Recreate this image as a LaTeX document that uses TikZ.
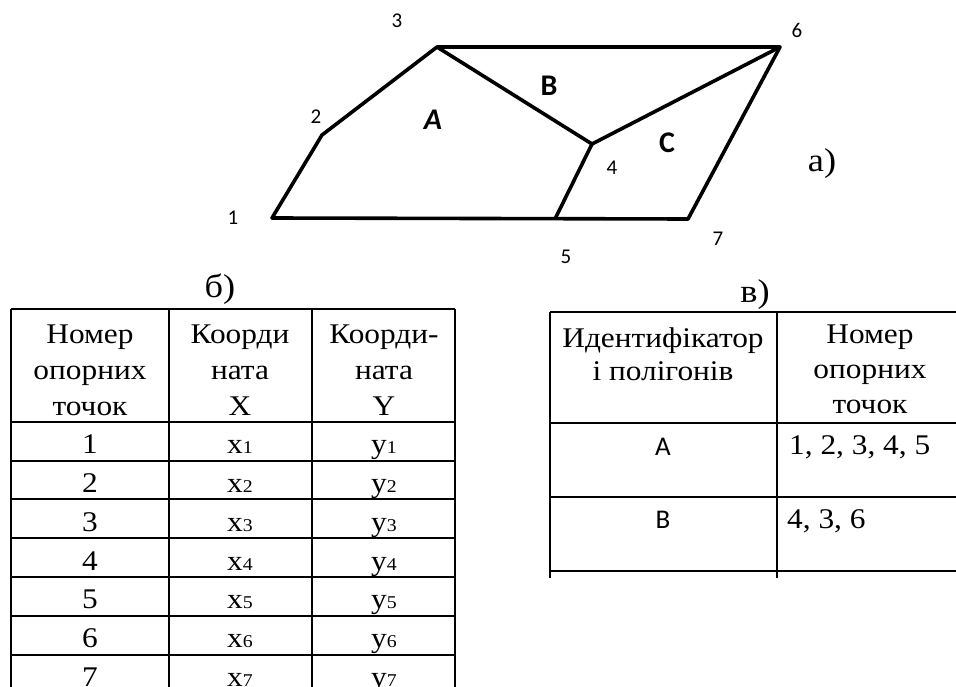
\documentclass[tikz,border=0pt]{standalone}
\usepackage{fontspec}
\setmainfont{Liberation Serif}[FakeStretch=1.1]
\newfontfamily\calfont{Carlito}
\usetikzlibrary{positioning}

\newcommand{\idx}[1]{{\fontsize{18}{18}\selectfont #1}}

\tikzset{
  edge/.style={line width=3.6pt, line join=round},
  grid/.style={line width=2.4pt},
  cell/.style={anchor=base, inner sep=0pt, font=\fontsize{28.5}{36}\selectfont},
  caption/.style={anchor=base, inner sep=0pt, font=\fontsize{33}{33}\selectfont},
  ptlabel/.style={inner sep=0pt, font=\calfont\fontsize{21}{21}\selectfont},
  region/.style={inner sep=0pt, font=\calfont\bfseries\fontsize{30}{30}\selectfont},
}

\begin{document}
\begin{tikzpicture}[x=1pt, y=-1pt]
  \useasboundingbox (0,0) rectangle (956,687);

  % Vertices of the map
  \coordinate (p1) at (272,218);
  \coordinate (p2) at (322,135);
  \coordinate (p3) at (437,47);
  \coordinate (p4) at (592,144);
  \coordinate (p5) at (555,219);
  \coordinate (p6) at (780,47);
  \coordinate (p7) at (688,219);

  % Polygon edges
  \draw[edge] (p1) -- (p2) -- (p3) -- (p6) -- (p7) -- cycle;
  \draw[edge] (p3) -- (p4) -- (p6);
  \draw[edge] (p4) -- (p5);

  % Vertex numbers
  \foreach \n/\x/\y in {1/233/218, 2/316/117, 3/397/21, 4/612/168, 5/566/257, 6/797/30, 7/718/239} {
    \node[ptlabel] (n\n) at (\x,\y) {\n};
  }

  % Polygon names
  \node[region] (rA) at (433,120) {\itshape A};
  \node[region] (rB) at (549,86) {B};
  \node[region] (rC) at (667,143) {C};
  \node[caption] (capa) at (822,172) {а)};

  % Table of points
  \node[caption] (capb) at (220,298) {б)};
  \foreach \x in {11,169,312,455} {
    \draw[grid] (\x,309) -- (\x,687);
  }
  \foreach \y in {309,422,461,499,538,577,616,655} {
    \draw[grid] (11,\y) -- (455,\y);
  }
  \node[cell, align=center] (hnum) at (90,415) {Номер\\опорних\\точок};
  \node[cell, align=center] (hx) at (240,415) {Коорди\\ната\\X};
  \node[cell, align=center] (hy) at (384,415) {Коорди-\\ната\\Y};
  \foreach \i/\yb in {1/453, 2/492, 3/531, 4/570, 5/608, 6/647, 7/686} {
    \node[cell] (k\i) at (90,\yb) {\i};
    \node[cell] (x\i) at (240,\yb) {x\idx{\i}};
    \node[cell] (y\i) at (384,\yb) {y\idx{\i}};
  }

  % Table of polygons
  \node[caption] (capv) at (755,302) {в)};
  \foreach \y in {312,423,497,571} {
    \draw[grid] (550,\y) -- (956,\y);
  }
  \foreach \x in {550,777} {
    \draw[grid] (\x,312) -- (\x,578);
  }
  \node[cell, align=center, font=\fontsize{28.5}{33}\selectfont] (hid) at (663,380) {Идентифікатор\\і полігонів};
  \node[cell, align=center, font=\fontsize{28.5}{35}\selectfont] (hpts) at (870,413) {Номер\\опорних\\точок};
  \node[cell, font=\calfont\fontsize{27}{27}\selectfont] (idA) at (663,455) {A};
  \node[cell, font=\calfont\fontsize{27}{27}\selectfont] (idB) at (663,528) {B};
  \node[cell, anchor=base west] (ptsA) at (789,454) {1, 2, 3, 4, 5};
  \node[cell, anchor=base west] (ptsB) at (787,528) {4, 3, 6};
\end{tikzpicture}
\end{document}
